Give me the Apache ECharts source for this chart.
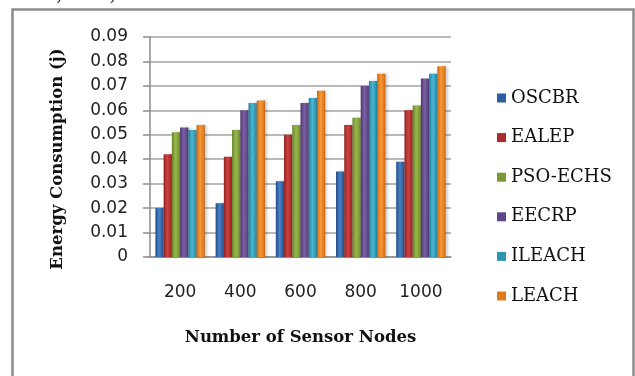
<!DOCTYPE html>
<html>
<head>
<meta charset="utf-8">
<style>
  html, body { margin: 0; padding: 0; background: #fff; }
  #chart { width: 635px; height: 376px; }
</style>
<script src="https://cdn.jsdelivr.net/npm/echarts@6/dist/echarts.min.js"></script>
</head>
<body>
<div id="chart"></div>
<script>
// Network sizes on the x axis
const nodeCounts = ['200', '400', '600', '800', '1000'];

// Energy consumption (j) per protocol
const oscbr   = [0.020, 0.022, 0.031, 0.035, 0.039];
const ealep   = [0.042, 0.041, 0.050, 0.054, 0.060];
const psoEchs = [0.051, 0.052, 0.054, 0.057, 0.062];
const eecrp   = [0.053, 0.060, 0.063, 0.070, 0.073];
const ileach  = [0.052, 0.063, 0.065, 0.072, 0.075];
const leach   = [0.054, 0.064, 0.068, 0.075, 0.078];

const seriesNames = ['OSCBR', 'EALEP', 'PSO-ECHS', 'EECRP', 'ILEACH', 'LEACH'];
const seriesData = [oscbr, ealep, psoEchs, eecrp, ileach, leach];

// Y tick range
const yMin = 0, yMax = 0.09, yStep = 0.01;

// Base colour, highlight and shade for a bevelled bar look
const palette = [
  ['#2c5f9f', '#4a82c4', '#22497c'],
  ['#ab2a2a', '#c94442', '#86201f'],
  ['#7a9933', '#98b74a', '#5e7826'],
  ['#5f4587', '#7b61a4', '#4a356a'],
  ['#2b95b3', '#4bb5d2', '#217589'],
  ['#e3791a', '#f5983a', '#b85f12']
];

function barFill(c) {
  return new echarts.graphic.LinearGradient(0, 0, 1, 0, [
    { offset: 0, color: c[2] },
    { offset: 0.15, color: c[0] },
    { offset: 0.45, color: c[1] },
    { offset: 0.85, color: c[0] },
    { offset: 1, color: c[2] }
  ]);
}

const chart = echarts.init(document.getElementById('chart'), null, { renderer: 'canvas' });

const series = seriesNames.map((name, i) => ({
  name: name,
  type: 'bar',
  data: seriesData[i],
  barGap: '0%',
  barCategoryGap: '18%',
  itemStyle: {
    color: barFill(palette[i]),
    shadowColor: 'rgba(0,0,0,0.22)',
    shadowBlur: 3,
    shadowOffsetX: 2,
    shadowOffsetY: 0
  },
  emphasis: { disabled: true }
}));

chart.setOption({
  animation: false,
  backgroundColor: '#fff',
  graphic: [
    {
      type: 'rect',
      shape: { x: 12.5, y: 9.5, width: 621, height: 380 },
      style: { fill: 'none', stroke: '#8c8c8c', lineWidth: 2.5 },
      z: 0
    },
    {
      type: 'text',
      left: 14,
      top: -19,
      style: {
        text: '34%, 38%, and 39%.',
        font: '23px "Liberation Serif", serif',
        fill: '#111'
      }
    }
  ],
  legend: {
    orient: 'vertical',
    left: 492,
    top: 83,
    icon: 'rect',
    itemWidth: 9,
    itemHeight: 9,
    itemGap: 19.6,
    data: seriesNames.map((n, i) => ({ name: n, itemStyle: { color: palette[i][0] } })),
    textStyle: {
      fontFamily: '"DejaVu Serif", serif',
      fontSize: 18,
      lineHeight: 20,
      color: '#111'
    }
  },
  grid: {
    left: 150,
    top: 37,
    width: 301,
    height: 220
  },
  xAxis: {
    type: 'category',
    data: nodeCounts,
    name: 'Number of Sensor Nodes',
    nameLocation: 'middle',
    nameGap: 72,
    nameTextStyle: {
      fontFamily: '"DejaVu Serif", serif',
      fontWeight: 'bold',
      fontSize: 16.5,
      color: '#111'
    },
    axisLine: { lineStyle: { color: '#8c8c8c', width: 1.5 } },
    axisTick: { show: false },
    axisLabel: {
      margin: 27,
      fontFamily: '"DejaVu Sans", sans-serif',
      fontSize: 17,
      color: '#222'
    }
  },
  yAxis: {
    type: 'value',
    min: yMin,
    max: yMax,
    interval: yStep,
    name: 'Energy Consumption (j)',
    nameLocation: 'middle',
    nameGap: 84,
    nameRotate: 90,
    nameTextStyle: {
      fontFamily: '"DejaVu Serif", serif',
      fontWeight: 'bold',
      fontSize: 16.5,
      color: '#111',
      padding: [0, 24, 0, 0]
    },
    axisLine: { show: true, lineStyle: { color: '#8c8c8c', width: 1.5 } },
    axisTick: { show: true, inside: false, length: 7, lineStyle: { color: '#8c8c8c', width: 1.5 } },
    splitLine: { show: true, lineStyle: { color: '#a3a3a3', width: 1.5 } },
    axisLabel: {
      margin: 22,
      fontFamily: '"DejaVu Sans", sans-serif',
      fontSize: 17,
      color: '#222',
      formatter: v => (v === 0 ? '0' : v.toFixed(2))
    }
  },
  series: series
});
</script>
</body>
</html>
